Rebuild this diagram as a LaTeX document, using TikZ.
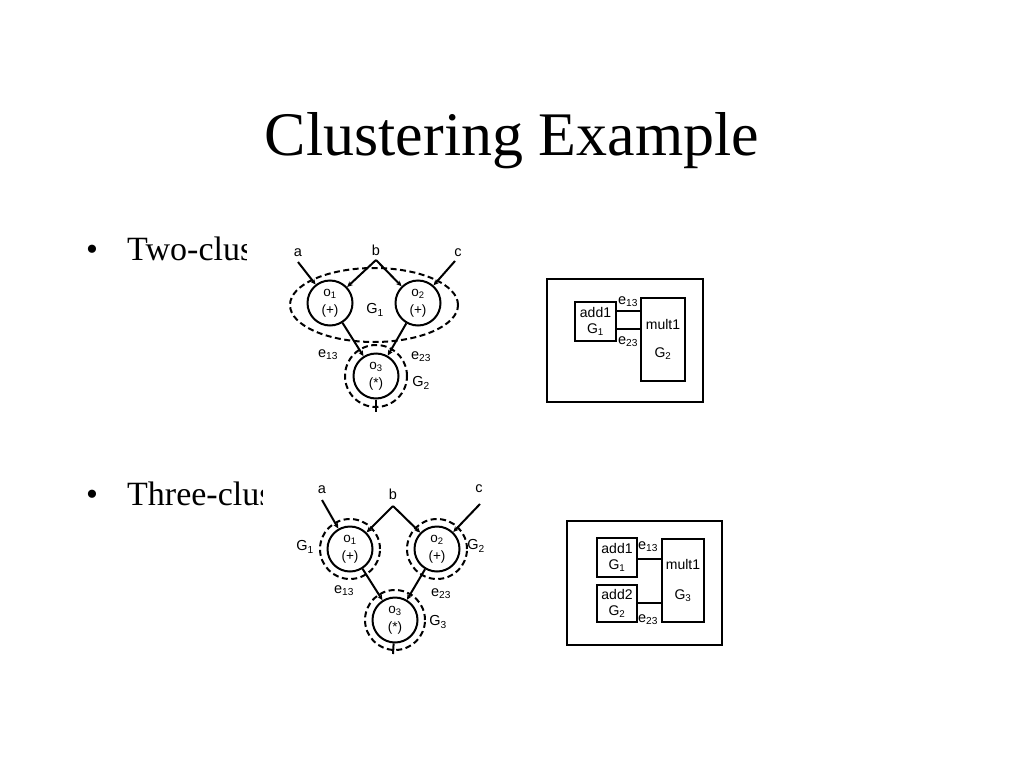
\documentclass[tikz,border=0pt]{standalone}
\usepackage{fontspec}
\setmainfont{Liberation Serif}
\newfontfamily\diagfont{Liberation Sans}
\usetikzlibrary{arrows.meta,calc}
\begin{document}
\begin{tikzpicture}[x=1pt,y=-1pt,
  op/.style={circle,draw,fill=white,line width=2pt,minimum size=45pt,inner sep=0pt,align=center,font=\diagfont\fontsize{13.5}{18}\selectfont},
  clus/.style={draw,line width=2pt,dash pattern=on 6pt off 3.5pt},
  wire/.style={line width=2pt},
  arr/.style={wire,-{Stealth[length=5.5pt,width=5pt]}},
  lbl/.style={font=\diagfont\fontsize{14.5}{16}\selectfont,inner sep=0pt},
  blk/.style={draw,line width=2.2pt,inner sep=0pt,align=center,font=\diagfont\fontsize{14}{16}\selectfont},
  outerframe/.style={draw,line width=2.2pt,inner sep=0pt},
  titlefont/.style={font=\fontsize{62}{70}\selectfont,inner sep=0pt},
  bulletfont/.style={font=\fontsize{34}{40}\selectfont,inner sep=0pt}]
\useasboundingbox (0,0) rectangle (1024,768);
\fill[white] (0,0) rectangle (1024,768);

% title and bullets
\node[titlefont,anchor=base] (title) at (512,155) {Clustering Example};
\node[bulletfont,anchor=base] (bul1) at (92,260) {•};
\node[bulletfont,anchor=base west] (txt1) at (127,260) {Two-clus};
\node[bulletfont,anchor=base] (bul2) at (92,505) {•};
\node[bulletfont,anchor=base west] (txt2) at (127,505) {Three-clus};

% image backgrounds
\fill[white] (247,228) rectangle (502,420);
\fill[white] (263,474) rectangle (502,662);

% ---------- diagram 1: two clusters ----------
\draw[clus] (374,305) ellipse [x radius=84pt, y radius=37pt];
\node[op] (o1) at (330,303) {o\textsubscript{1}\\(+)};
\node[op] (o2) at (418,303) {o\textsubscript{2}\\(+)};
\node[op] (o3) at (376,376) {o\textsubscript{3}\\(*)};
\draw[clus] (o3.center) circle [radius=31pt];
\coordinate (a1) at (298,262);
\coordinate (b1) at (376,260);
\coordinate (c1) at (455,261);
\coordinate (out1) at (376,412);
\draw[arr] (a1) -- (o1);
\draw[arr] (c1) -- (o2);
\draw[arr] (b1) -- (o1);
\draw[arr] (b1) -- (o2);
\draw[arr] (o1) -- (o3);
\draw[arr] (o2) -- (o3);
\draw[wire] (o3) -- (out1);
\node[lbl] (la1) at (298,253) {a};
\node[lbl] (lb1) at (376,250) {b};
\node[lbl] (lc1) at (458,253) {c};
\node[lbl] (lg11) at (375,310) {G\textsubscript{1}};
\node[lbl] (le131) at (328,355) {e\textsubscript{13}};
\node[lbl] (le231) at (421,357) {e\textsubscript{23}};
\node[lbl] (lg21) at (421,383) {G\textsubscript{2}};

% ---------- box diagram 1 ----------
\node[outerframe,minimum width=156pt,minimum height=123pt] (fr1) at (625,340.5) {};
\node[blk,minimum width=41pt,minimum height=39pt] (add1a) at (595.5,321.5) {add1\\G\textsubscript{1}};
\node[blk,minimum width=44pt,minimum height=83pt] (mult1a) at (663,339.5) {mult1\\[12pt]G\textsubscript{2}};
\path (add1a.north east) ++(0,10) coordinate (p13a);
\path (add1a.north east) ++(0,28) coordinate (p23a);
\draw[wire] (p13a) -- (p13a -| mult1a.west);
\draw[wire] (p23a) -- (p23a -| mult1a.west);
\node[lbl] (le13a) at (628,302) {e\textsubscript{13}};
\node[lbl] (le23a) at (628,342) {e\textsubscript{23}};

% ---------- diagram 2: three clusters ----------
\node[op] (q1) at (350,549) {o\textsubscript{1}\\(+)};
\node[op] (q2) at (437,549) {o\textsubscript{2}\\(+)};
\node[op] (q3) at (395,620) {o\textsubscript{3}\\(*)};
\draw[clus] (q1.center) circle [radius=30pt];
\draw[clus] (q2.center) circle [radius=30pt];
\draw[clus] (q3.center) circle [radius=30pt];
\coordinate (a2) at (322,500);
\coordinate (b2) at (393,506);
\coordinate (c2) at (480,504);
\coordinate (out2) at (393,654);
\draw[arr] (a2) -- (q1);
\draw[arr] (c2) -- (q2);
\draw[arr] (b2) -- (q1);
\draw[arr] (b2) -- (q2);
\draw[arr] (q1) -- (q3);
\draw[arr] (q2) -- (q3);
\draw[wire] (q3) -- (out2);
\node[lbl] (la2) at (322,490) {a};
\node[lbl] (lb2) at (393,494) {b};
\node[lbl] (lc2) at (479,489) {c};
\node[lbl] (lg12) at (305,547) {G\textsubscript{1}};
\node[lbl] (lg22) at (476,546) {G\textsubscript{2}};
\node[lbl] (lg32) at (438,622) {G\textsubscript{3}};
\node[lbl] (le132) at (344,591) {e\textsubscript{13}};
\node[lbl] (le232) at (441,594) {e\textsubscript{23}};

% ---------- box diagram 2 ----------
\node[outerframe,minimum width=155pt,minimum height=124pt] (fr2) at (644.5,583) {};
\node[blk,minimum width=40pt,minimum height=39pt] (add1b) at (617,557.5) {add1\\G\textsubscript{1}};
\node[blk,minimum width=40pt,minimum height=37pt] (add2b) at (617,603.5) {add2\\G\textsubscript{2}};
\node[blk,minimum width=42pt,minimum height=83pt] (mult1b) at (683,580.5) {mult1\\[14pt]G\textsubscript{3}};
\path (add1b.north east) ++(0,22) coordinate (p13b);
\path (add2b.north east) ++(0,19) coordinate (p23b);
\draw[wire] (p13b) -- (p13b -| mult1b.west);
\draw[wire] (p23b) -- (p23b -| mult1b.west);
\node[lbl] (le13b) at (648,547) {e\textsubscript{13}};
\node[lbl] (le23b) at (648,620) {e\textsubscript{23}};
\end{tikzpicture}
\end{document}
